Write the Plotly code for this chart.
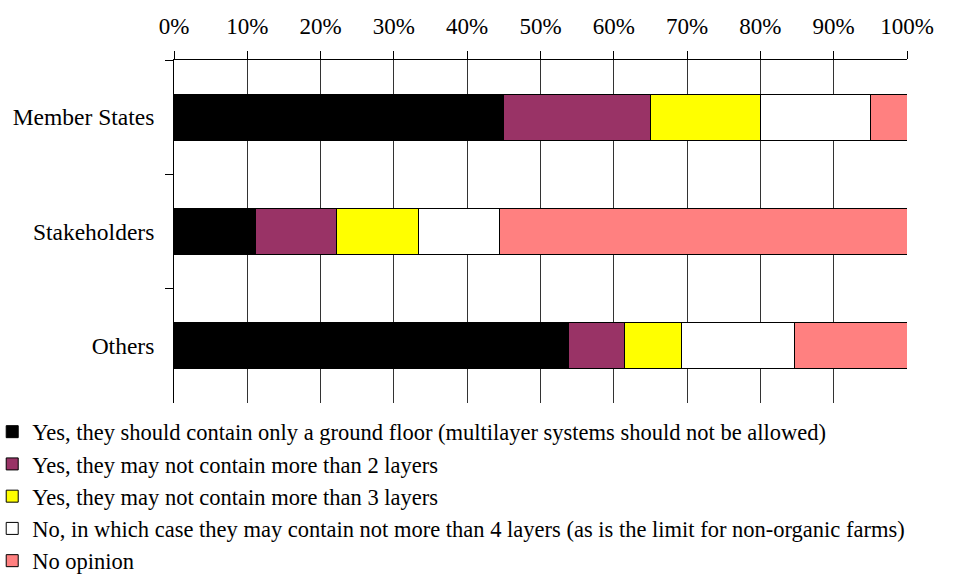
import plotly.graph_objects as go

categories = ["Member States", "Stakeholders", "Others"]
series_names = [
    "Yes, they should contain only a ground floor (multilayer systems should not be allowed)",
    "Yes, they may not contain more than 2 layers",
    "Yes, they may not contain more than 3 layers",
    "No, in which case they may contain not more than 4 layers (as is the limit for non-organic farms)",
    "No opinion",
]
ground_floor = [45.0, 11.1, 53.8]
max_2_layers = [20.0, 11.1, 7.7]
max_3_layers = [15.0, 11.1, 7.7]
max_4_layers = [15.0, 11.1, 15.4]
no_opinion = [5.0, 55.6, 15.4]
colors = ["#000000", "#993366", "#FFFF00", "#FFFFFF", "#FF8080"]
tick_vals = [0, 10, 20, 30, 40, 50, 60, 70, 80, 90, 100]
tick_text = [f"{v}%" for v in tick_vals]

fig = go.Figure()
for name, vals, col in zip(series_names,
                           [ground_floor, max_2_layers, max_3_layers, max_4_layers, no_opinion],
                           colors):
    fig.add_trace(go.Bar(
        y=categories, x=vals, name=name, orientation="h",
        marker=dict(color=col, line=dict(color="black", width=1)),
        width=0.4, legendgroup=name,
    ))

fig.update_layout(
    barmode="stack",
    width=957, height=574,
    margin=dict(l=174, r=50, t=60, b=171, autoexpand=False),
    plot_bgcolor="white", paper_bgcolor="white",
    font=dict(family="Liberation Serif, Times New Roman, serif", size=23, color="black"),
    showlegend=True,
    legend=dict(
        orientation="v", x=-0.248, xanchor="left", y=-0.022, yanchor="top",
        font=dict(size=22.5), tracegroupgap=0, itemwidth=30,
        bgcolor="rgba(0,0,0,0)",
    ),
    xaxis=dict(
        side="top", range=[0, 100], tickvals=tick_vals, ticktext=tick_text,
        showgrid=True, gridcolor="#333333", gridwidth=1,
        showline=True, linecolor="black", linewidth=1,
        ticks="outside", ticklen=8, tickcolor="black",
        zeroline=False, ticklabelstandoff=8,
    ),
    yaxis=dict(
        categoryorder="array", categoryarray=categories, autorange="reversed",
        showline=True, linecolor="black", linewidth=1,
        ticks="outside", ticklen=8, tickcolor="black", tickson="boundaries",
        showgrid=False, zeroline=False, ticklabelstandoff=14,
        tickfont=dict(size=23.5),
    ),
)

fig.write_html("out.html", config={"displayModeBar": False},
               post_script="document.body.style.margin='0';")
